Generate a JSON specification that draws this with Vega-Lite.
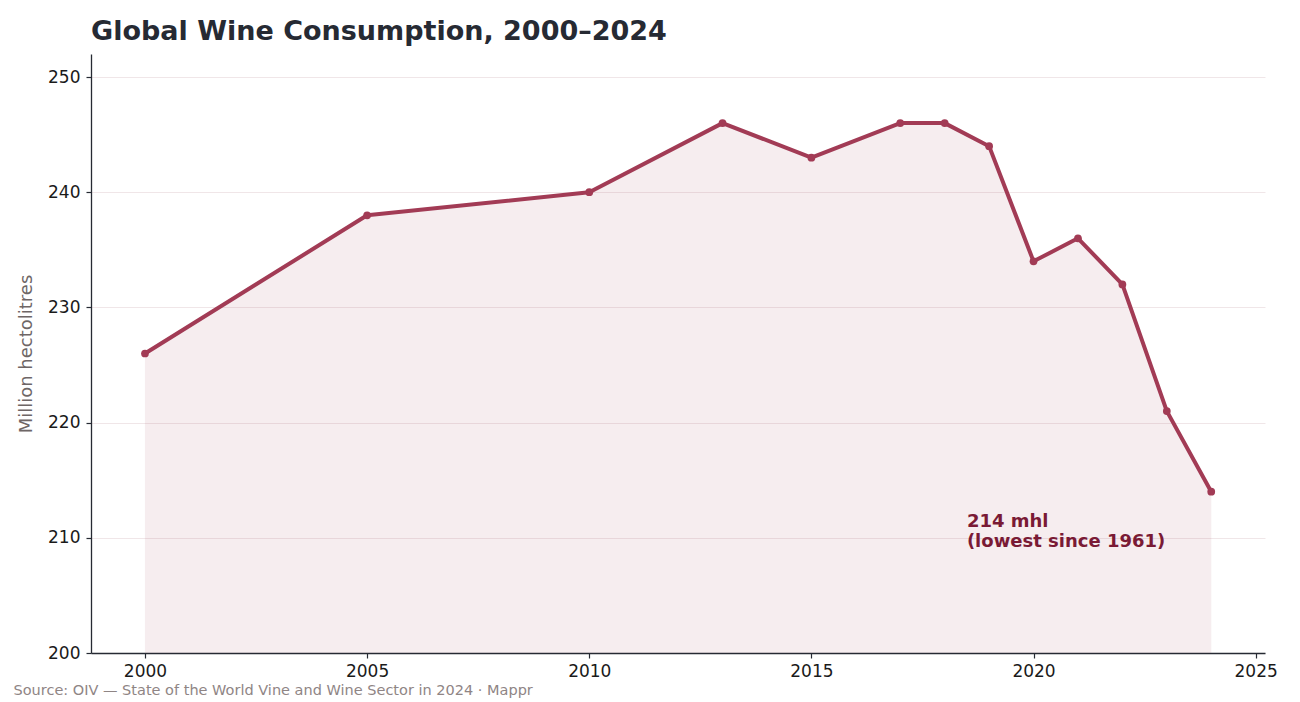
{
  "$schema": "https://vega.github.io/schema/vega-lite/v6.json",
  "width": 1174,
  "height": 599,
  "autosize": {"type": "none"},
  "padding": {"left": 91, "top": 54, "right": 35, "bottom": 49},
  "background": "white",
  "config": {
    "font": "DejaVu Sans",
    "view": {"stroke": null}
  },
  "title": {
    "text": "Global Wine Consumption, 2000–2024",
    "anchor": "start",
    "frame": "group",
    "font": "DejaVu Sans",
    "fontSize": 27,
    "fontWeight": "bold",
    "color": "#262a33",
    "offset": 8
  },
  "datasets": {
    "consumption": [
      {"year": 2000, "mhl": 226},
      {"year": 2005, "mhl": 238},
      {"year": 2010, "mhl": 240},
      {"year": 2013, "mhl": 246},
      {"year": 2015, "mhl": 243},
      {"year": 2017, "mhl": 246},
      {"year": 2018, "mhl": 246},
      {"year": 2019, "mhl": 244},
      {"year": 2020, "mhl": 234},
      {"year": 2021, "mhl": 236},
      {"year": 2022, "mhl": 232},
      {"year": 2023, "mhl": 221},
      {"year": 2024, "mhl": 214}
    ],
    "notes": [
      {"year": 2018.5, "mhl": 211.4, "label": ["214 mhl", "(lowest since 1961)"]}
    ]
  },
  "data": {"name": "consumption"},
  "encoding": {
    "x": {
      "field": "year",
      "type": "quantitative",
      "scale": {"domain": [1998.785, 2025.21], "nice": false, "zero": false},
      "axis": {
        "values": [2000, 2005, 2010, 2015, 2020, 2025],
        "format": "d",
        "grid": false,
        "domainColor": "#262a33",
        "domainWidth": 1.3,
        "tickColor": "#262a33",
        "tickSize": 5,
        "tickWidth": 1.2,
        "labelFontSize": 17,
        "labelColor": "#1a1a1a",
        "labelPadding": 5,
        "title": "Source: OIV — State of the World Vine and Wine Sector in 2024 · Mappr",
        "titleFontSize": 14.5,
        "titleFontWeight": "normal",
        "titleColor": "#8f8585",
        "titleAnchor": "start",
        "titleAlign": "left",
        "titleX": -78,
        "titleY": 37,
        "titleBaseline": "middle"
      }
    },
    "y": {
      "field": "mhl",
      "type": "quantitative",
      "scale": {"domain": [200, 252], "nice": false, "zero": false},
      "axis": {
        "values": [200, 210, 220, 230, 240, 250],
        "grid": true,
        "gridColor": "#f0e6e8",
        "gridWidth": 1,
        "domainColor": "#262a33",
        "domainWidth": 1.3,
        "tickColor": "#262a33",
        "tickSize": 5,
        "tickWidth": 1.2,
        "labelFontSize": 17,
        "labelColor": "#1a1a1a",
        "labelPadding": 6,
        "title": "Million hectolitres",
        "titleFontSize": 18,
        "titleFontWeight": "normal",
        "titleColor": "#6e6666",
        "titlePadding": 12
      }
    }
  },
  "layer": [
    {
      "mark": {"type": "area", "color": "#a23b55", "opacity": 0.085, "stroke": "#a23b55", "strokeWidth": 0.6, "strokeOpacity": 0.06},
      "encoding": {"y2": {"datum": 200}}
    },
    {
      "mark": {"type": "line", "color": "#a23b55", "strokeWidth": 4, "strokeJoin": "round", "strokeCap": "round"}
    },
    {
      "mark": {"type": "point", "filled": true, "shape": "circle", "size": 60, "color": "#a23b55", "opacity": 1}
    },
    {
      "data": {"name": "notes"},
      "mark": {"type": "text", "align": "left", "baseline": "middle", "fontSize": 18, "fontWeight": "bold", "color": "#7a1a35", "lineHeight": 20.5},
      "encoding": {"text": {"field": "label"}}
    }
  ]
}
